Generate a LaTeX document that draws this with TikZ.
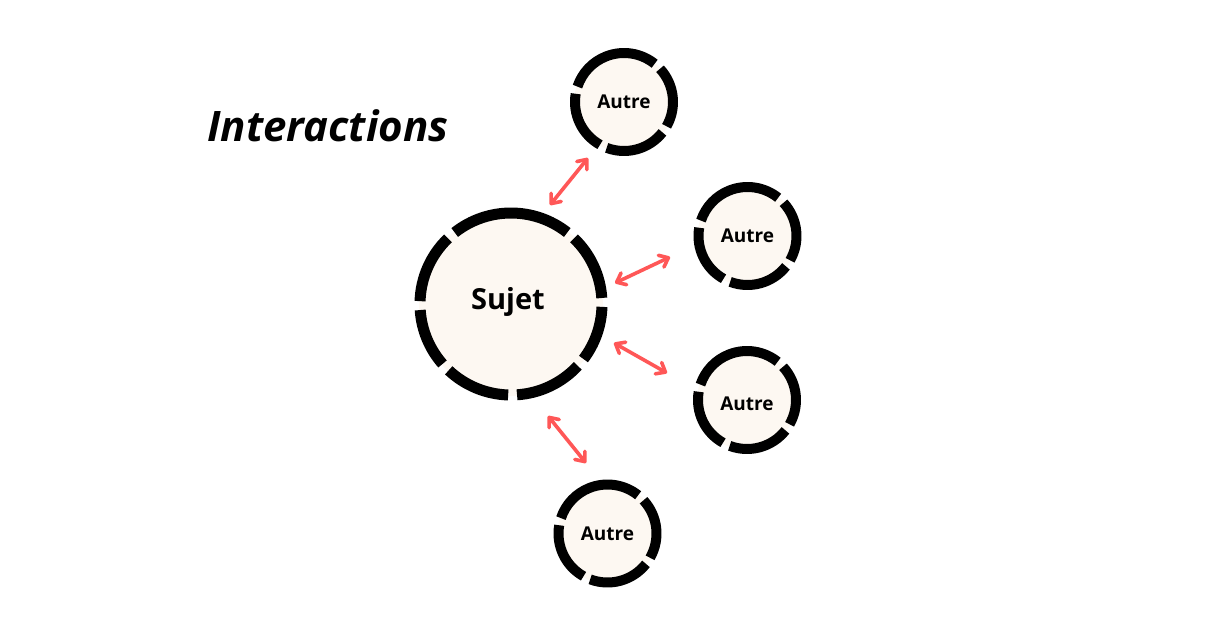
\documentclass[tikz,border=0pt]{standalone}
\usepackage{fontspec}
\setmainfont{Open Sans}
\usetikzlibrary{arrows.meta}
\definecolor{cream}{HTML}{FDF8F2}
\definecolor{arrred}{HTML}{FF5757}
\begin{document}
\begin{tikzpicture}[x=1pt,y=-1pt,
  bigc/.style={circle,fill=cream,minimum size=184pt,inner sep=0pt},
  smallc/.style={circle,fill=cream,minimum size=100pt,inner sep=0pt,font=\fontsize{19}{22}\selectfont\bfseries},
  bigtxt/.style={inner sep=0pt,font=\fontsize{29}{34}\selectfont\bfseries},
  bigseg/.style={draw=black,line width=11pt,line cap=butt},
  smallseg/.style={draw=black,line width=10pt,line cap=butt},
  link/.style={draw=arrred,line width=3.6pt,line cap=round,
    {Straight Barb[length=8pt,width=13pt,round]}-{Straight Barb[length=8pt,width=13pt,round]}}
]
\useasboundingbox[fill=white] (0,0) rectangle (1221,638);

\node[font=\fontsize{42}{47}\selectfont\bfseries\itshape,anchor=base west,inner sep=0pt] (title) at (207,141) {Interactions};

\node[bigc] (s) at (511,304) {};
\node[bigtxt,yshift=2pt] (stxt) at (508,304) {Sujet};
\node[smallc] (a1) at (624,102) {Autre};
\node[smallc] (a2) at (747.5,236) {Autre};
\node[smallc] (a3) at (747,400) {};
\node[smallc,fill=none,yshift=-3.5pt] (a3txt) at (747,400) {Autre};
\node[smallc] (a4) at (607.5,533.5) {Autre};

% dashed rims
\foreach \p/\q in {3.8/46.2, 51.8/128.2, 133.8/178.2, 183.8/221.2, 226.8/268.2, 273.8/317.2, 322.8/358.2}
  \draw[bigseg] (s.center) ++(-\p:91) arc[start angle=-\p, end angle=-\q, radius=91];
\foreach \n in {a1,a2,a3,a4}
  \foreach \p/\q in {51.3/161.7, 170.3/240.7, 249.3/321.7, 330.3/402.7}
    \draw[smallseg] (\n.center) ++(-\p:49) arc[start angle=-\p, end angle=-\q, radius=49];

% interaction arrows
\coordinate (e1s) at (550,205); \coordinate (e1a) at (588,158);
\coordinate (e2s) at (615,283); \coordinate (e2a) at (670,257);
\coordinate (e3s) at (614,343); \coordinate (e3a) at (667,373);
\coordinate (e4s) at (548,416); \coordinate (e4a) at (586,463);
\draw[link] (e1s) -- (e1a);
\draw[link] (e2s) -- (e2a);
\draw[link] (e3s) -- (e3a);
\draw[link] (e4s) -- (e4a);
\end{tikzpicture}
\end{document}
